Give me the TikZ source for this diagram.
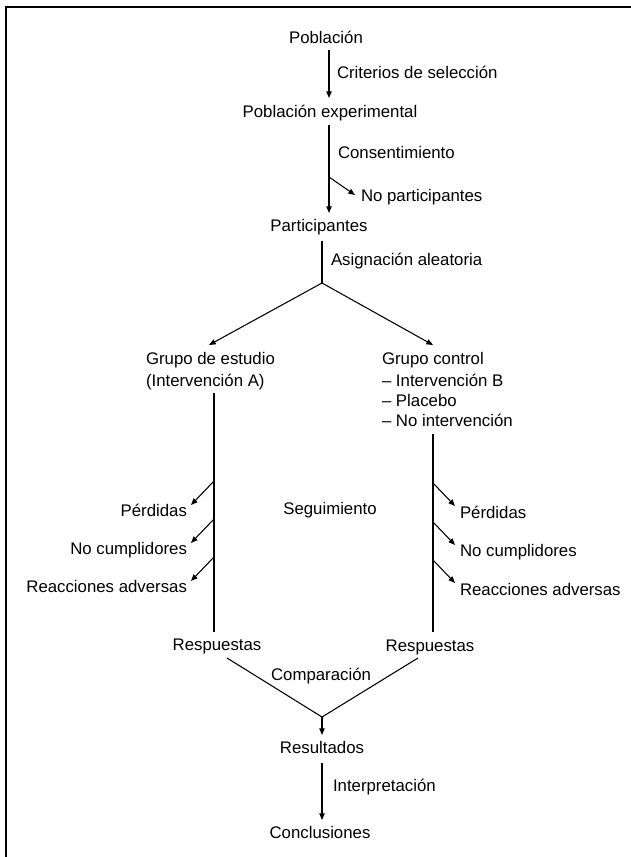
\documentclass[tikz,border=0pt]{standalone}
\usepackage{fontspec}
\setmainfont{Liberation Sans}
\usetikzlibrary{arrows.meta}
\begin{document}
\begin{tikzpicture}[x=0.75pt,y=-0.75pt,
  lbl/.style={inner sep=0pt,outer sep=0pt,font=\fontsize{12.6pt}{14pt}\selectfont,text height=0.72em,text depth=0.2em},
  ln/.style={line width=0.8pt},
  arr/.style={line width=0.8pt,-{Triangle[length=5pt,width=4pt]}},
  frame/.style={line width=1.8pt}]
\useasboundingbox (0,0) rectangle (631,857);
% frame
\coordinate (ftr) at (631,7);
\coordinate (ftl) at (6,7);
\coordinate (fbl) at (6,857);
\draw[frame] (ftr) -- (ftl) -- (fbl);

% text nodes
\node[lbl] (pob) at (326,40) {Población};
\node[lbl,anchor=west] (crit) at (337,75) {Criterios de selección};
\node[lbl] (pobexp) at (330,114) {Población experimental};
\node[lbl,anchor=west] (cons) at (338,155) {Consentimiento};
\node[lbl,anchor=west] (nopart) at (361,198) {No participantes};
\node[lbl] (part) at (319,228) {Participantes};
\node[lbl,anchor=west] (asig) at (331,262) {Asignación aleatoria};
\node[lbl,anchor=west] (gest) at (146,361) {Grupo de estudio};
\node[lbl,anchor=west] (inta) at (146,383) {(Intervención A)};
\node[lbl,anchor=west] (gcon) at (382,361) {Grupo control};
\node[lbl,anchor=west] (intb) at (382,383) {– Intervención B};
\node[lbl,anchor=west] (plac) at (382,403) {– Placebo};
\node[lbl,anchor=west] (noint) at (382,423) {– No intervención};
\node[lbl,anchor=east] (perdL) at (187,513) {Pérdidas};
\node[lbl,anchor=east] (nocL) at (187,551) {No cumplidores};
\node[lbl,anchor=east] (reaL) at (187,589) {Reacciones adversas};
\node[lbl,anchor=west] (perdR) at (460,515) {Pérdidas};
\node[lbl,anchor=west] (nocR) at (460,553) {No cumplidores};
\node[lbl,anchor=west] (reaR) at (460,592) {Reacciones adversas};
\node[lbl] (seg) at (330,511) {Seguimiento};
\node[lbl] (respL) at (217,647) {Respuestas};
\node[lbl] (respR) at (430,648) {Respuestas};
\node[lbl] (comp) at (321,677) {Comparación};
\node[lbl] (res) at (322,750) {Resultados};
\node[lbl,anchor=west] (interp) at (333,788) {Interpretación};
\node[lbl] (concl) at (320,835) {Conclusiones};

% junction coordinates
\coordinate (a1s) at (329,50);   \coordinate (a1e) at (329,98);
\coordinate (a2s) at (329,125);  \coordinate (a2e) at (329,213);
\coordinate (jnp) at (329,177);  \coordinate (jnpe) at (355,195);
\coordinate (pls) at (322,241);  \coordinate (split) at (322,283);
\coordinate (splL) at (209,345); \coordinate (splR) at (433,345);
\coordinate (vLs) at (214,393);  \coordinate (vLe) at (214,632);
\coordinate (vRs) at (433,434);  \coordinate (vRe) at (433,632);
\coordinate (jL1) at (214,481);  \coordinate (tL1) at (191,505);
\coordinate (jL2) at (214,519);  \coordinate (tL2) at (191,543);
\coordinate (jL3) at (214,557);  \coordinate (tL3) at (191,581);
\coordinate (jR1) at (433,483);  \coordinate (tR1) at (455,506);
\coordinate (jR2) at (433,522);  \coordinate (tR2) at (455,545);
\coordinate (jR3) at (433,560);  \coordinate (tR3) at (455,583);
\coordinate (cL) at (227,658);   \coordinate (cR) at (418,658);
\coordinate (apex) at (322,717); \coordinate (apexe) at (322,735);
\coordinate (a3s) at (322,763);  \coordinate (a3e) at (322,820);

% connectors
\draw[arr] (a1s) -- (a1e);
\draw[arr] (a2s) -- (a2e);
\draw[arr] (jnp) -- (jnpe);
\draw[ln] (pls) -- (split);
\draw[arr] (split) -- (splL);
\draw[arr] (split) -- (splR);
\draw[ln] (vLs) -- (vLe);
\draw[ln] (vRs) -- (vRe);
\draw[arr] (jL1) -- (tL1);
\draw[arr] (jL2) -- (tL2);
\draw[arr] (jL3) -- (tL3);
\draw[arr] (jR1) -- (tR1);
\draw[arr] (jR2) -- (tR2);
\draw[arr] (jR3) -- (tR3);
\draw[ln] (cL) -- (apex) -- (cR);
\draw[arr] (apex) -- (apexe);
\draw[arr] (a3s) -- (a3e);
\end{tikzpicture}
\end{document}
